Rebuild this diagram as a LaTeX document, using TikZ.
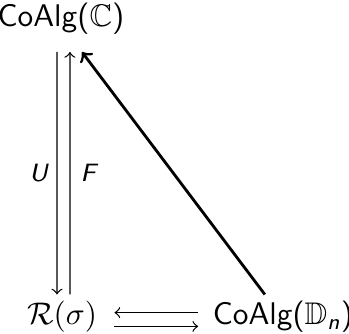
\documentclass[tikz,border=0pt]{standalone}
\usepackage{amsmath,amssymb}
\usepackage{tikz}
\usetikzlibrary{positioning}
\tikzstyle{obj} = [inner sep=0pt, font=\sffamily]
\tikzstyle{arrow} = [->, >=to]
\tikzstyle{lbl} = [inner sep=0pt, font=\sffamily\itshape\footnotesize]

\begin{document}
\begin{tikzpicture}[x=0.3195pt, y=-0.3195pt]
    \useasboundingbox (0,0) rectangle (349,333);
    % Objects
    \node (calg) [obj] at (61,18.5) {CoAlg($\mathbb{C}$)};
    \node (rsig) [obj] at (62,317) {$\mathcal{R}(\sigma)$};
    \node (dalg) [obj] at (283,317) {CoAlg($\mathbb{D}_{\textsf{\itshape n}}$)};

    % Adjunction U -| F
    \draw [arrow] ([xshift=-1.3pt, yshift=-5.5pt]calg.south) -- node[lbl, left=2.8pt] {U} ([xshift=-1.6pt, yshift=2pt]rsig.north);
    \draw [arrow] ([xshift=2.56pt, yshift=2pt]rsig.north) -- node[lbl, right=3.2pt] {F} ([xshift=2.85pt, yshift=-5.5pt]calg.south);

    % Pair between R(sigma) and CoAlg(D_n)
    \draw [arrow] ([xshift=-4.5pt, yshift=1.4pt]dalg.west) -- ([xshift=5.4pt, yshift=1.4pt]rsig.east);
    \draw [arrow] ([xshift=5.4pt, yshift=-3pt]rsig.east) -- ([xshift=-4.5pt, yshift=-3pt]dalg.west);

    % Diagonal
    \draw [arrow, line width=0.9pt] ([xshift=-5.8pt, yshift=2pt]dalg.north) -- ([xshift=6.7pt, yshift=-5.5pt]calg.south);
\end{tikzpicture}
\end{document}
